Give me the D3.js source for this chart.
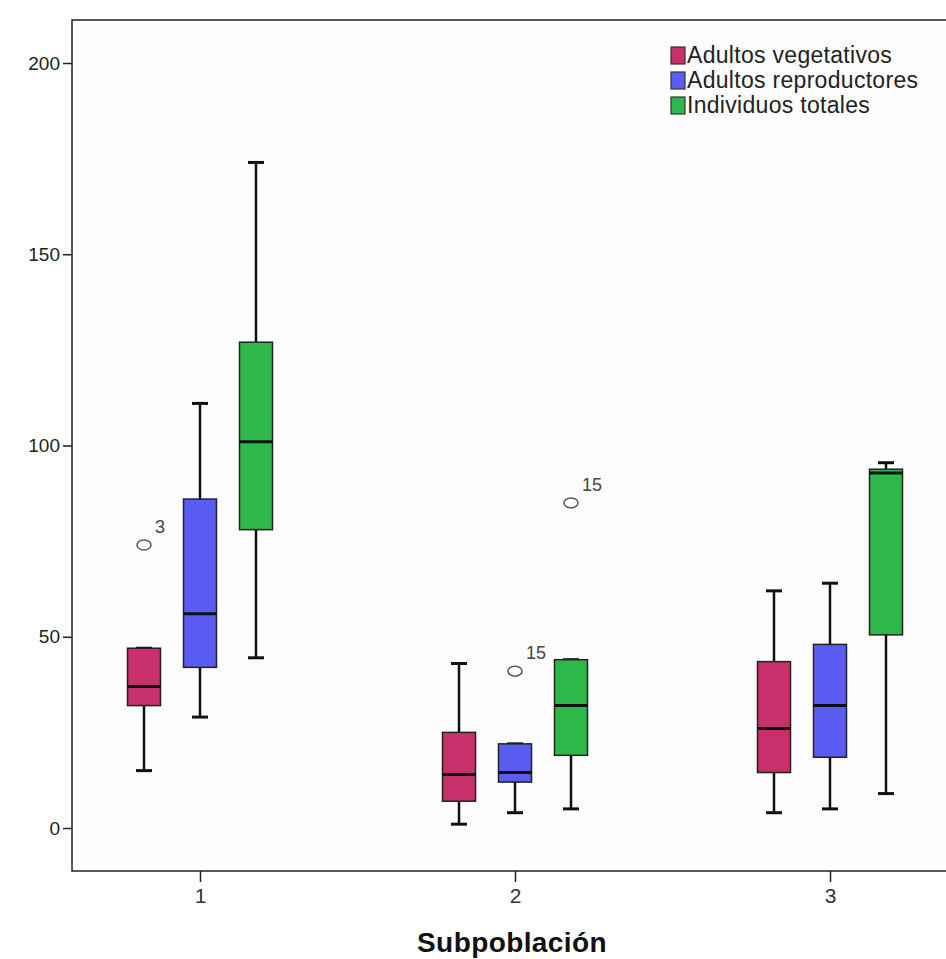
<!DOCTYPE html>
<html>
<head>
<meta charset="utf-8">
<script src="https://cdn.jsdelivr.net/npm/d3@7"></script>
<style>
  body { margin: 0; background: #fff; }
  svg { display: block; font-family: "Liberation Sans", Arial, sans-serif; }
</style>
</head>
<body>
<svg id="chart" width="946" height="959"></svg>
<script>
// subpopulations on the x axis
const groups = ["1", "2", "3"];
const seriesNames = ["Adultos vegetativos", "Adultos reproductores", "Individuos totales"];
const seriesColors = ["#c8306c", "#5a5cf2", "#2fb84a"];

// box stats per series, one value per subpopulation
const lowWhisker  = [[15, 1, 4],   [29, 4, 5],    [44.5, 5, 9]];
const q1Values    = [[32, 7, 14.5], [42, 12, 18.5], [78, 19, 50.5]];
const medians     = [[37, 14, 26],  [56, 14.5, 32], [101, 32, 92.8]];
const q3Values    = [[47, 25, 43.5], [86, 22, 48],  [127, 44, 93.8]];
const highWhisker = [[47, 43, 62],  [111, 22, 64],  [174, 44, 95.5]];

// outliers: [series index, group index, value, label]
const outliers = [
    [0, 0, 74, "3"],
    [1, 1, 41, "15"],
    [2, 1, 85, "15"]
];

const yTicks = [0, 50, 100, 150, 200];

const svg = d3.select("#chart");

const plotLeft = 72, plotTop = 20, plotBottom = 871, plotRight = 946;

const y = d3.scaleLinear().domain([0, 200]).range([828, 63]);
const x = d3.scalePoint().domain(groups).range([200, 830]);
const offset = d3.scalePoint().domain(d3.range(3)).range([-56, 56]);
const boxW = 33;

// frame
svg.append("rect")
    .attr("x", plotLeft).attr("y", plotTop)
    .attr("width", plotRight - plotLeft + 10).attr("height", plotBottom - plotTop)
    .attr("fill", "#fdfdfd")
    .attr("stroke", "#222").attr("stroke-width", 1.5);

// y axis
const yAxis = svg.append("g")
    .attr("transform", `translate(${plotLeft},0)`)
    .call(d3.axisLeft(y).tickValues(yTicks).tickSize(9).tickPadding(3));
yAxis.select(".domain").remove();
yAxis.selectAll("line").attr("stroke", "#222").attr("stroke-width", 1.5);
yAxis.selectAll("text").attr("font-size", 19).attr("fill", "#222")
    .attr("font-family", "Liberation Sans, Arial, sans-serif");

// x axis
const xAxis = svg.append("g")
    .attr("transform", `translate(0,${plotBottom})`)
    .call(d3.axisBottom(x).tickSize(11).tickPadding(6));
xAxis.select(".domain").remove();
xAxis.selectAll("line").attr("stroke", "#222").attr("stroke-width", 1.5);
xAxis.selectAll("text").attr("font-size", 21).attr("fill", "#333")
    .attr("font-family", "Liberation Sans Narrow, Arial, sans-serif");

svg.append("text")
    .attr("x", 512).attr("y", 952)
    .attr("text-anchor", "middle")
    .attr("font-size", 28).attr("font-weight", "bold").attr("fill", "#111")
    .attr("letter-spacing", 0.4)
    .text("Subpoblación");

// boxes
const boxes = [];
seriesNames.forEach((name, s) => {
    groups.forEach((g, i) => {
        boxes.push({
            s, cx: x(g) + offset(s),
            lo: lowWhisker[s][i], q1: q1Values[s][i], med: medians[s][i],
            q3: q3Values[s][i], hi: highWhisker[s][i]
        });
    });
});

const bg = svg.append("g").selectAll("g").data(boxes).join("g");

bg.append("line")
    .attr("x1", d => d.cx).attr("x2", d => d.cx)
    .attr("y1", d => y(d.lo)).attr("y2", d => y(d.q1))
    .attr("stroke", "#111").attr("stroke-width", 2.5);
bg.append("line")
    .attr("x1", d => d.cx).attr("x2", d => d.cx)
    .attr("y1", d => y(d.hi)).attr("y2", d => y(d.q3))
    .attr("stroke", "#111").attr("stroke-width", 2.5);
bg.append("line")
    .attr("x1", d => d.cx - 8).attr("x2", d => d.cx + 8)
    .attr("y1", d => y(d.lo)).attr("y2", d => y(d.lo))
    .attr("stroke", "#111").attr("stroke-width", 3);
bg.append("line")
    .attr("x1", d => d.cx - 8).attr("x2", d => d.cx + 8)
    .attr("y1", d => y(d.hi)).attr("y2", d => y(d.hi))
    .attr("stroke", "#111").attr("stroke-width", 3);
bg.append("rect")
    .attr("x", d => d.cx - boxW / 2).attr("width", boxW)
    .attr("y", d => y(d.q3)).attr("height", d => y(d.q1) - y(d.q3))
    .attr("fill", d => seriesColors[d.s])
    .attr("stroke", "#222").attr("stroke-width", 1.5);
bg.append("line")
    .attr("x1", d => d.cx - boxW / 2).attr("x2", d => d.cx + boxW / 2)
    .attr("y1", d => y(d.med)).attr("y2", d => y(d.med))
    .attr("stroke", "#111").attr("stroke-width", 3);

// outliers
const og = svg.append("g").selectAll("g").data(outliers).join("g")
    .attr("transform", d => `translate(${x(groups[d[1]]) + offset(d[0])},${y(d[2])})`);
og.append("ellipse")
    .attr("rx", 7).attr("ry", 5)
    .attr("fill", "none").attr("stroke", "#555").attr("stroke-width", 1.5);
og.append("text")
    .attr("x", 11).attr("y", -12)
    .attr("font-size", 18).attr("fill", "#444")
    .text(d => d[3]);

// legend
const lg = svg.append("g").attr("transform", "translate(671,47)")
    .selectAll("g").data(seriesNames).join("g")
    .attr("transform", (d, i) => `translate(0,${i * 25})`);
lg.append("rect")
    .attr("width", 14).attr("height", 17)
    .attr("fill", (d, i) => seriesColors[i])
    .attr("stroke", "#333").attr("stroke-width", 1.2);
lg.append("text")
    .attr("x", 16).attr("y", 16)
    .attr("font-size", 23).attr("fill", "#222")
    .attr("letter-spacing", 0.3)
    .text(d => d);
</script>
</body>
</html>
